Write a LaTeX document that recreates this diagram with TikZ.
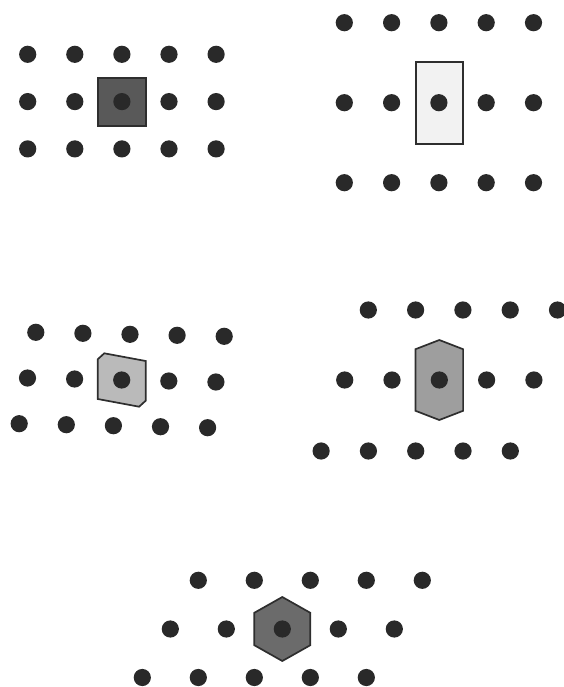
\documentclass[tikz,border=0pt]{standalone}
\begin{document}
\begin{tikzpicture}[x=1pt,y=-1pt,
  dot/.style={fill=black!84},
  cell/.style={draw=black!82,line width=1.7pt,line join=miter}]
\useasboundingbox (0,0) rectangle (563,687);
\def\r{8.6}
% ---- square lattice
\filldraw[cell,fill=black!65] (97.7,77.7) rectangle (145.7,125.7);
\foreach \i in {0,...,4}\foreach \j in {0,1,2}
  \fill[dot] (27.7+47.1*\i,54.3+47.3*\j) circle (\r);
% ---- rectangular lattice
\filldraw[cell,fill=black!5] (415.7,61.7) rectangle (463,144);
\foreach \i in {0,...,4}\foreach \j in {0,1,2}
  \fill[dot] (344.3+47.3*\i,22.7+80*\j) circle (\r);
% ---- oblique lattice
\begin{scope}[shift={(121.7,380)}]
\filldraw[cell,fill=black!27] (-24,-20.7) -- (-17.4,-26.7) -- (24,-19) -- (24,20.7) -- (17.4,26.7) -- (-24,19) -- cycle;
\foreach \i in {-2,...,2}\foreach \j in {-1,0,1}
  \fill[dot] ({47.1*\i+8.3*\j},{1.0*\i-45.7*\j}) circle (\r);
\end{scope}
% ---- centred rectangular lattice
\begin{scope}[shift={(439.3,380)}]
\filldraw[cell,fill=black!38] (0,-40) -- (23.8,-30.8) -- (23.8,30.8) -- (0,40) -- (-23.8,30.8) -- (-23.8,-30.8) -- cycle;
\foreach \i in {-2,...,2}
  \fill[dot] (47.3*\i,0) circle (\r);
\foreach \i in {-1,...,3}
  \fill[dot] (47.3*\i-23.7,-70) circle (\r);
\foreach \i in {-3,...,1}
  \fill[dot] (47.3*\i+23.7,71) circle (\r);
\end{scope}
% ---- hexagonal lattice
\begin{scope}[shift={(282.3,629)}]
\filldraw[cell,fill=black!58] (0,-32) -- (28,-16.2) -- (28,16.2) -- (0,32) -- (-28,16.2) -- (-28,-16.2) -- cycle;
\foreach \i in {-2,...,2}
  \fill[dot] (56*\i,0) circle (\r);
\foreach \i in {-2,...,2}
  \fill[dot] (56*\i+28,-48.7) circle (\r);
\foreach \i in {-2,...,2}
  \fill[dot] (56*\i-28,48.5) circle (\r);
\end{scope}
\end{tikzpicture}
\end{document}
